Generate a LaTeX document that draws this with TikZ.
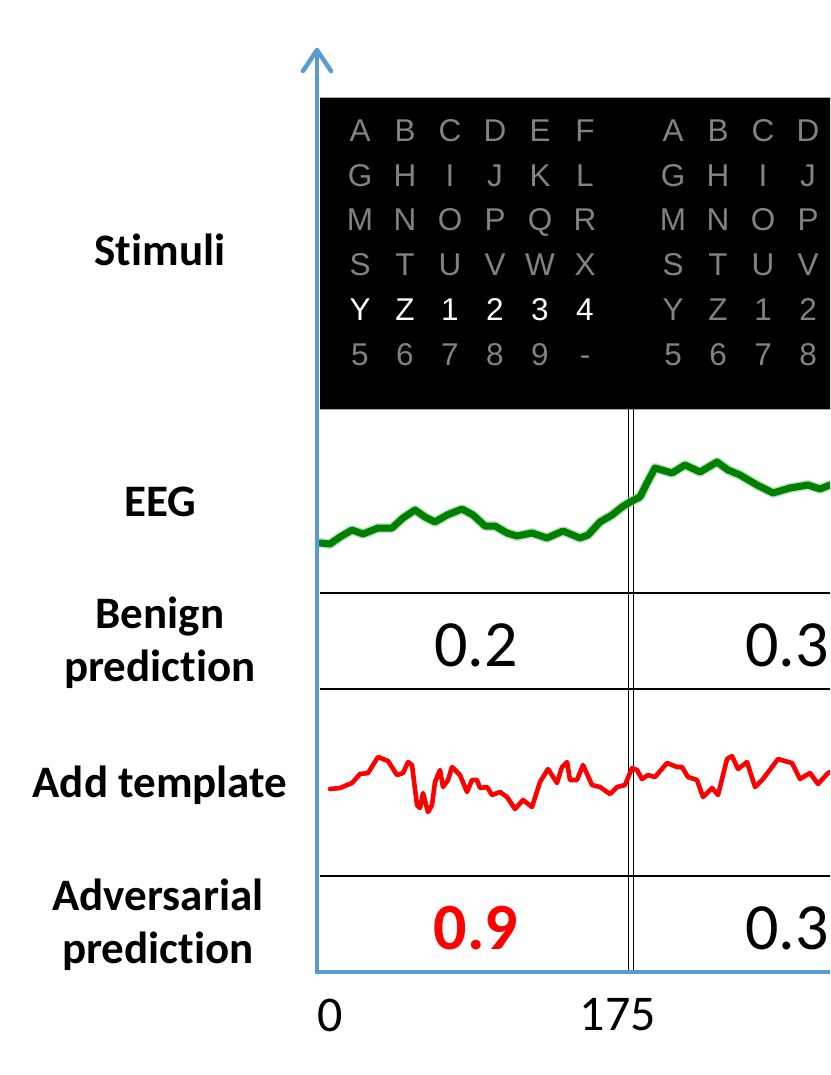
\documentclass[tikz,border=0pt]{standalone}
\usepackage{fontspec}
\setmainfont{Carlito}[Ligatures=NoCommon]
\newfontfamily\arialf{Liberation Sans}
\usetikzlibrary{arrows.meta}
\definecolor{axisblue}{HTML}{5B9BD5}
\definecolor{gridgrey}{HTML}{828282}
\definecolor{eeggreen}{HTML}{008000}
\definecolor{advred}{HTML}{FF0000}
\tikzset{
  rowlabel/.style={font=\fontsize{45}{53}\selectfont\bfseries, align=center, inner sep=0pt},
  predval/.style={font=\fontsize{66}{70}\selectfont, inner sep=0pt},
  ticklabel/.style={font=\fontsize{50}{54}\selectfont, inner sep=0pt},
  gridletter/.style={font=\arialf\fontsize{31.5}{33}\selectfont, text=gridgrey, inner sep=0pt, anchor=base},
  sepline/.style={line width=1.8pt, black},
  axisline/.style={line width=4.5pt, axisblue},
}
\begin{document}
\begin{tikzpicture}[x=1pt,y=-1pt]
\useasboundingbox (0,0) rectangle (830,1075);
\clip (0,0) rectangle (830,1075);
% stimulus panel
\fill[black] (320,97) rectangle (840,409);
\draw[gray!70, line width=0.8pt] (320,97) -- (840,97) (320,409) -- (840,409);
% first grid
\foreach \r/\row in {0/{A,B,C,D,E,F},1/{G,H,I,J,K,L},2/{M,N,O,P,Q,R},3/{S,T,U,V,W,X},5/{5,6,7,8,9,-}}{
  \foreach \ch [count=\c from 0] in \row {
    \node[gridletter] (ga\r\c) at (360+45*\c, 141.5+44.7*\r) {\ch};
  }
}
\foreach \ch [count=\c from 0] in {Y,Z,1,2,3,4}{
  \node[gridletter, text=white] (ga4\c) at (360+45*\c, 141.5+44.7*4) {\ch};
}
% second grid
\foreach \r/\row in {0/{A,B,C,D},1/{G,H,I,J},2/{M,N,O,P},3/{S,T,U,V},4/{Y,Z,1,2},5/{5,6,7,8}}{
  \foreach \ch [count=\c from 0] in \row {
    \node[gridletter] (gb\r\c) at (673+45*\c, 141.5+44.7*\r) {\ch};
  }
}
% row separators
\draw[sepline] (320,593) -- (840,593);
\draw[sepline] (320,689) -- (840,689);
\draw[sepline] (320,876) -- (840,876);
% double vertical separator
\draw[sepline, line width=1.6pt] (628.5,409) -- (628.5,970);
\draw[sepline, line width=1.6pt] (633.5,409) -- (633.5,970);
% EEG curve
\draw[eeggreen!40, line width=10pt, line join=round, line cap=round, opacity=0.6]
 (320,543) -- (330,544) -- (340,537) -- (352,530) -- (363,534) -- (378,528) -- (392,528) -- (403,518) -- (415,510) -- (425,517) -- (435,522) -- (447,515) -- (462,509) -- (473,515) -- (485,526) -- (495,526) -- (507,533) -- (517,536) -- (532,533) -- (547,538) -- (563,531) -- (580,538) -- (588,535) -- (600,522) -- (612,515) -- (622,507) -- (630,502) -- (640,497) -- (647,483) -- (655,468) -- (672,473) -- (685,465) -- (700,472) -- (717,462) -- (728,470) -- (740,475) -- (757,485) -- (773,493) -- (790,488) -- (808,485) -- (820,489) -- (830,485);
\draw[eeggreen, line width=7pt, line join=round, line cap=round]
 (320,543) -- (330,544) -- (340,537) -- (352,530) -- (363,534) -- (378,528) -- (392,528) -- (403,518) -- (415,510) -- (425,517) -- (435,522) -- (447,515) -- (462,509) -- (473,515) -- (485,526) -- (495,526) -- (507,533) -- (517,536) -- (532,533) -- (547,538) -- (563,531) -- (580,538) -- (588,535) -- (600,522) -- (612,515) -- (622,507) -- (630,502) -- (640,497) -- (647,483) -- (655,468) -- (672,473) -- (685,465) -- (700,472) -- (717,462) -- (728,470) -- (740,475) -- (757,485) -- (773,493) -- (790,488) -- (808,485) -- (820,489) -- (830,485);
% template curve
\draw[advred, line width=4.6pt, line join=round, line cap=round]
 (330,789) -- (340,788) -- (352,783) -- (360,774) -- (368,773) -- (378,757) -- (388,761) -- (397,775) -- (403,773) -- (408,762) -- (412,765) -- (417,805) -- (420,808) -- (423,793) -- (428,812) -- (432,805) -- (435,782) -- (440,770) -- (443,787) -- (448,780) -- (452,767) -- (460,775) -- (467,792) -- (472,780) -- (477,780) -- (480,788) -- (487,787) -- (492,795) -- (500,792) -- (507,797) -- (515,809) -- (523,800) -- (532,807) -- (540,782) -- (548,769) -- (557,783) -- (562,767) -- (567,762) -- (570,780) -- (577,780) -- (583,765) -- (592,785) -- (600,787) -- (610,794) -- (617,787) -- (625,785) -- (632,768) -- (637,770) -- (642,779) -- (648,775) -- (655,777) -- (667,763) -- (677,767) -- (682,767) -- (688,777) -- (697,780) -- (703,797) -- (712,788) -- (718,795) -- (727,759) -- (732,756) -- (738,769) -- (747,762) -- (755,787) -- (763,779) -- (778,759) -- (792,763) -- (800,779) -- (810,773) -- (818,784) -- (828,773) -- (835,770);
% predictions
\node[predval] (b1) at (476,645) {0.2};
\node[predval] (b2) at (787,645) {0.3};
\node[predval, font=\fontsize{66}{70}\selectfont\bfseries, text=advred] (a1) at (476,928) {0.9};
\node[predval] (a2) at (787,928) {0.3};
% axes
\coordinate (origin) at (317,972);
\coordinate (ytop) at (317,50);
\coordinate (xend) at (840,972);
\draw[axisline, line cap=rect] (xend) -- (origin) -- (317,55);
\draw[axisline, line cap=round, line join=round] (303,71) -- (ytop) -- (331,71);
% tick labels
\node[ticklabel] (t0) at (330,1015) {0};
\node[ticklabel] (t175) at (618,1015) {175};
% row labels
\node[rowlabel] (lstim) at (160,250) {Stimuli};
\node[rowlabel] (leeg) at (160,502) {EEG};
\node[rowlabel] (lben) at (160,643) {Benign\\prediction};
\node[rowlabel] (ltpl) at (160,785) {Add template};
\node[rowlabel] (ladv) at (158,925) {Adversarial\\prediction};
\end{tikzpicture}
\end{document}
